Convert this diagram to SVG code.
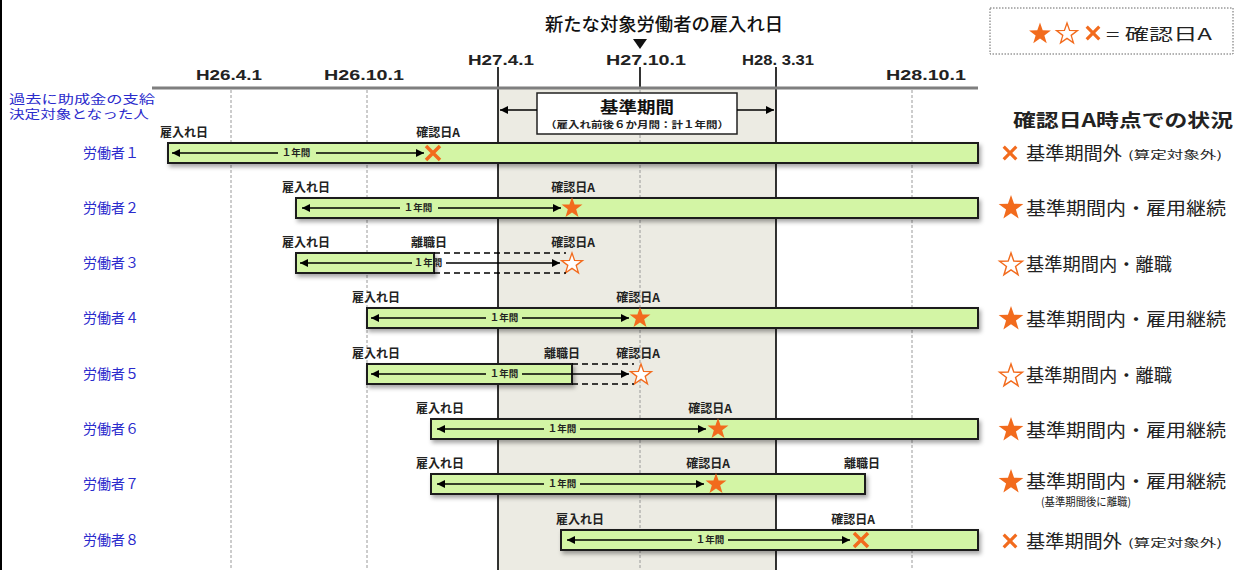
<svg xmlns="http://www.w3.org/2000/svg" width="1237" height="570" viewBox="0 0 1237 570">
<defs>
<style>
text{font-family:"Noto Sans CJK JP","Noto Sans",sans-serif}
.bar{fill:#d3f5a5;stroke:#1e1e1e;stroke-width:2;filter:url(#sh)}
.arr{stroke:#000;stroke-width:1.5;fill:none;marker-end:url(#ah)}
.dsh{stroke:#000;stroke-width:1.3;stroke-dasharray:6,4;fill:none}
.vg{stroke:#9a9a9a;stroke-width:1;stroke-dasharray:3,2}
.vb{stroke:#000;stroke-width:1.6}
.sm{font-size:12px;fill:#222;text-anchor:middle;font-weight:bold}
.yr{font-size:9.5px;fill:#222;text-anchor:middle;font-weight:bold}
.wk{font-size:14px;fill:#2a2acc}
.tk{font-family:"Liberation Sans",Arial,sans-serif;font-size:15px;font-weight:bold;fill:#222;text-anchor:middle}
.st{font-size:18px;fill:#222}
.sub{font-size:11px;fill:#222}
.fs{fill:#f26b1d}
.hs{fill:#fff;stroke:#f26b1d;stroke-width:1.2}
.x{stroke:#f26b1d;stroke-width:3.5;stroke-linecap:butt}
</style>
<filter id="sh" x="-5%" y="-30%" width="110%" height="180%">
<feDropShadow dx="2" dy="3" stdDeviation="2" flood-color="#000" flood-opacity="0.35"/>
</filter>
<marker id="ah" markerWidth="8" markerHeight="8" refX="8" refY="4" orient="auto" markerUnits="userSpaceOnUse">
<path d="M0,0 L8,4 L0,8 z" fill="#000"/>
</marker>
<path id="star" d="M0,-10 L2.35,-3.24 L9.51,-3.09 L3.8,1.24 L5.88,8.09 L0,4 L-5.88,8.09 L-3.8,1.24 L-9.51,-3.09 L-2.35,-3.24 Z"/>
<path id="cross" d="M-7,-7 L7,7 M7,-7 L-7,7"/>
</defs>
<rect width="1237" height="570" fill="#fff"/>
<rect x="0" y="0" width="2" height="570" fill="#000"/>

<g id="timeline">
<rect x="498" y="89" width="278" height="481" fill="#ecebe3"/>
<line class="vg" x1="231" y1="90" x2="231" y2="570"/>
<line class="vg" x1="367" y1="90" x2="367" y2="570"/>
<line class="vg" x1="640" y1="90" x2="640" y2="570"/>
<line class="vg" x1="912" y1="90" x2="912" y2="570"/>
<line class="vb" x1="498" y1="67" x2="498" y2="570"/>
<line class="vb" x1="776" y1="67" x2="776" y2="570"/>
<line class="vb" x1="640" y1="67" x2="640" y2="88"/>
<line x1="152" y1="88" x2="978" y2="88" stroke="#7f7f7f" stroke-width="3"/>
<text class="tk" x="229" y="80" textLength="66" lengthAdjust="spacingAndGlyphs">H26.4.1</text>
<text class="tk" x="364" y="80" textLength="80" lengthAdjust="spacingAndGlyphs">H26.10.1</text>
<text class="tk" x="501" y="65" textLength="66" lengthAdjust="spacingAndGlyphs">H27.4.1</text>
<text class="tk" x="646" y="65" textLength="80" lengthAdjust="spacingAndGlyphs">H27.10.1</text>
<text class="tk" x="778" y="65" textLength="72" lengthAdjust="spacingAndGlyphs">H28. 3.31</text>
<text class="tk" x="926" y="80" textLength="80" lengthAdjust="spacingAndGlyphs">H28.10.1</text>
<text x="664" y="31" font-size="18" fill="#111" text-anchor="middle" font-weight="500" textLength="238" lengthAdjust="spacingAndGlyphs">新たな対象労働者の雇入れ日</text>
<polygon points="633,39 647,39 640,49" fill="#111"/>
</g>

<g id="period">
<rect x="537" y="93" width="200" height="41" fill="#fff" stroke="#222" stroke-width="1.5"/>
<text x="637" y="113" font-size="16" font-weight="bold" fill="#111" text-anchor="middle" textLength="74" lengthAdjust="spacingAndGlyphs">基準期間</text>
<text x="637" y="128" font-size="9.5" font-weight="bold" fill="#222" text-anchor="middle" textLength="184" lengthAdjust="spacingAndGlyphs">（雇入れ前後６か月間：計１年間）</text>
</g>

<g id="legend">
<rect x="990" y="8" width="243" height="46" fill="#fff" stroke="#666" stroke-width="1" stroke-dasharray="1.5,1.5"/>
<use href="#star" class="fs" transform="translate(1040,34) scale(1.15)"/>
<use href="#star" class="hs" transform="translate(1067,34) scale(1.1)"/>
<use href="#cross" class="x" transform="translate(1093,33) scale(0.9)"/>
<text x="1106" y="40" font-size="16" fill="#222" textLength="106" lengthAdjust="spacingAndGlyphs">= 確認日A</text>
</g>

<g id="header-left">
<text x="9" y="104" font-size="12" fill="#2a2acc" textLength="146" lengthAdjust="spacingAndGlyphs">過去に助成金の支給</text>
<text x="9" y="119" font-size="12" fill="#2a2acc" textLength="140" lengthAdjust="spacingAndGlyphs">決定対象となった人</text>
</g>

<text x="1013" y="127" font-size="18" font-weight="bold" fill="#222" textLength="220" lengthAdjust="spacingAndGlyphs">確認日A時点での状況</text>

<g id="worker1">
<text class="wk" x="83" y="158">労働者１</text>
<rect class="bar" x="168" y="143" width="810" height="20"/>
<text class="sm" x="184" y="137">雇入れ日</text>
<text class="sm" x="438" y="137">確認日A</text>
<text class="yr" x="296" y="156">１年間</text>
<use href="#cross" class="x" transform="translate(433,153)"/>
</g>
<g id="worker2">
<text class="wk" x="83" y="213">労働者２</text>
<rect class="bar" x="296" y="198" width="682" height="20"/>
<text class="sm" x="306" y="192">雇入れ日</text>
<text class="sm" x="573" y="192">確認日A</text>
<text class="yr" x="418" y="211">１年間</text>
<use href="#star" class="fs" transform="translate(572,208) scale(1.1)"/>
</g>
<g id="worker3">
<text class="wk" x="83" y="268">労働者３</text>
<rect class="bar" x="296" y="253" width="138" height="20"/>
<text class="sm" x="306" y="247">雇入れ日</text>
<text class="sm" x="429" y="247">離職日</text>
<text class="sm" x="573" y="247">確認日A</text>
<text class="yr" x="428" y="266">１年間</text>
<use href="#star" class="hs" transform="translate(572,264) scale(1.1)"/>
</g>
<g id="worker4">
<text class="wk" x="83" y="323">労働者４</text>
<rect class="bar" x="367" y="308" width="611" height="20"/>
<text class="sm" x="376" y="302">雇入れ日</text>
<text class="sm" x="638" y="302">確認日A</text>
<text class="yr" x="504" y="321">１年間</text>
<use href="#star" class="fs" transform="translate(640,318) scale(1.1)"/>
</g>
<g id="worker5">
<text class="wk" x="83" y="379">労働者５</text>
<rect class="bar" x="367" y="364" width="205" height="20"/>
<text class="sm" x="376" y="358">雇入れ日</text>
<text class="sm" x="562" y="358">離職日</text>
<text class="sm" x="638" y="358">確認日A</text>
<text class="yr" x="504" y="377">１年間</text>
<use href="#star" class="hs" transform="translate(641,375) scale(1.1)"/>
</g>
<g id="worker6">
<text class="wk" x="83" y="434">労働者６</text>
<rect class="bar" x="431" y="419" width="547" height="20"/>
<text class="sm" x="440" y="413">雇入れ日</text>
<text class="sm" x="710" y="413">確認日A</text>
<text class="yr" x="562" y="432">１年間</text>
<use href="#star" class="fs" transform="translate(718,429) scale(1.1)"/>
</g>
<g id="worker7">
<text class="wk" x="83" y="489">労働者７</text>
<rect class="bar" x="431" y="474" width="434" height="20"/>
<text class="sm" x="440" y="468">雇入れ日</text>
<text class="sm" x="708" y="468">確認日A</text>
<text class="sm" x="862" y="468">離職日</text>
<text class="yr" x="562" y="487">１年間</text>
<use href="#star" class="fs" transform="translate(716,484) scale(1.1)"/>
</g>
<g id="worker8">
<text class="wk" x="83" y="545">労働者８</text>
<rect class="bar" x="561" y="530" width="417" height="20"/>
<text class="sm" x="580" y="524">雇入れ日</text>
<text class="sm" x="853" y="524">確認日A</text>
<text class="yr" x="710" y="543">１年間</text>
<use href="#cross" class="x" transform="translate(861,540)"/>
</g>

<g id="connectors">
<line class="arr" x1="278" y1="153" x2="172" y2="153"/>
<line class="arr" x1="316" y1="153" x2="424" y2="153"/>
<line class="arr" x1="400" y1="208" x2="302" y2="208"/>
<line class="arr" x1="438" y1="208" x2="561" y2="208"/>
<line class="arr" x1="412" y1="263" x2="300" y2="263"/>
<line class="arr" x1="446" y1="263" x2="560" y2="263"/>
<line class="arr" x1="486" y1="318" x2="371" y2="318"/>
<line class="arr" x1="522" y1="318" x2="629" y2="318"/>
<line class="arr" x1="486" y1="374" x2="371" y2="374"/>
<line class="arr" x1="522" y1="374" x2="629" y2="374"/>
<line class="arr" x1="544" y1="429" x2="437" y2="429"/>
<line class="arr" x1="580" y1="429" x2="706" y2="429"/>
<line class="arr" x1="544" y1="484" x2="437" y2="484"/>
<line class="arr" x1="580" y1="484" x2="704" y2="484"/>
<line class="arr" x1="692" y1="540" x2="567" y2="540"/>
<line class="arr" x1="728" y1="540" x2="850" y2="540"/>
<line class="dsh" x1="434" y1="253" x2="566" y2="253"/>
<line class="dsh" x1="434" y1="273" x2="566" y2="273"/>
<line class="dsh" x1="572" y1="364" x2="634" y2="364"/>
<line class="dsh" x1="572" y1="384" x2="634" y2="384"/>
<line class="arr" x1="537" y1="110" x2="500" y2="110"/>
<line class="arr" x1="737" y1="110" x2="774" y2="110"/>
</g>

<g id="status">
<use href="#cross" class="x" transform="translate(1010,153) scale(0.9)"/>
<text class="st" x="1026" y="160" textLength="96" lengthAdjust="spacingAndGlyphs">基準期間外</text>
<text class="sub" x="1128" y="159" font-size="12" textLength="94" lengthAdjust="spacingAndGlyphs">(算定対象外)</text>
<use href="#star" class="fs" transform="translate(1011,208) scale(1.3)"/>
<text class="st" x="1026" y="215" textLength="200" lengthAdjust="spacingAndGlyphs">基準期間内・雇用継続</text>
<use href="#star" class="hs" transform="translate(1011,265) scale(1.2)"/>
<text class="st" x="1026" y="271" textLength="146" lengthAdjust="spacingAndGlyphs">基準期間内・離職</text>
<use href="#star" class="fs" transform="translate(1011,319) scale(1.3)"/>
<text class="st" x="1026" y="326" textLength="200" lengthAdjust="spacingAndGlyphs">基準期間内・雇用継続</text>
<use href="#star" class="hs" transform="translate(1011,376) scale(1.2)"/>
<text class="st" x="1026" y="382" textLength="146" lengthAdjust="spacingAndGlyphs">基準期間内・離職</text>
<use href="#star" class="fs" transform="translate(1011,430) scale(1.3)"/>
<text class="st" x="1026" y="437" textLength="200" lengthAdjust="spacingAndGlyphs">基準期間内・雇用継続</text>
<use href="#star" class="fs" transform="translate(1011,482) scale(1.3)"/>
<text class="st" x="1026" y="488" textLength="200" lengthAdjust="spacingAndGlyphs">基準期間内・雇用継続</text>
<text class="sub" x="1041" y="506" textLength="90" lengthAdjust="spacingAndGlyphs">(基準期間後に離職)</text>
<use href="#cross" class="x" transform="translate(1010,541) scale(0.9)"/>
<text class="st" x="1026" y="548" textLength="96" lengthAdjust="spacingAndGlyphs">基準期間外</text>
<text class="sub" x="1128" y="547" font-size="12" textLength="94" lengthAdjust="spacingAndGlyphs">(算定対象外)</text>
</g>
</svg>
